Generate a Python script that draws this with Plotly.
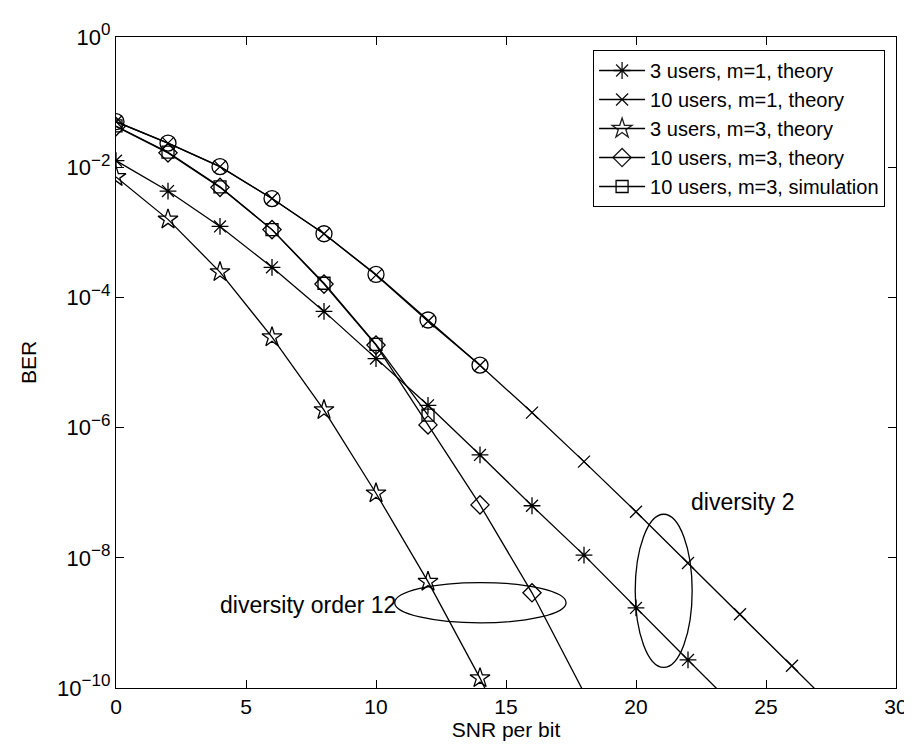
import plotly.graph_objects as go

# ---------------- data ----------------
snr = [0, 2, 4, 6, 8, 10, 12, 14, 16, 18, 20, 22, 24, 26, 28]

ber_3u_m1_theory = [1.26e-2, 4.3e-3, 1.23e-3, 2.9e-4, 6.1e-5, 1.15e-5, 2.2e-6, 3.8e-7,
                    6.3e-8, 1.1e-8, 1.7e-9, 2.7e-10, 4.3e-11]
ber_10u_m1_theory = [5.0e-2, 2.34e-2, 1.02e-2, 3.3e-3, 9.5e-4, 2.2e-4, 4.3e-5, 9.1e-6,
                     1.7e-6, 3.0e-7, 5.1e-8, 8.3e-9, 1.36e-9, 2.2e-10, 3.5e-11]
ber_3u_m3_theory = [7.1e-3, 1.58e-3, 2.45e-4, 2.45e-5, 1.86e-6, 9.8e-8, 4.3e-9, 1.42e-10, 3.0e-12]
ber_10u_m3_theory = [4.2e-2, 1.66e-2, 4.9e-3, 1.1e-3, 1.6e-4, 1.85e-5, 1.1e-6, 6.5e-8,
                     2.9e-9, 8.5e-11]
ber_10u_m3_sim = [4.3e-2, 1.7e-2, 5.0e-3, 1.1e-3, 1.65e-4, 1.9e-5, 1.55e-6]
ber_10u_m1_sim = [5.0e-2, 2.34e-2, 1.02e-2, 3.3e-3, 9.5e-4, 2.25e-4, 4.5e-5, 9.1e-6]

names = ["3 users, m=1, theory", "10 users, m=1, theory", "3 users, m=3, theory",
         "10 users, m=3, theory", "10 users, m=3, simulation"]

x_ticks = [0, 5, 10, 15, 20, 25, 30]
y_tick_vals = [1e0, 1e-2, 1e-4, 1e-6, 1e-8, 1e-10]
y_tick_exps = ["0", "\u22122", "\u22124", "\u22126", "\u22128", "\u221210"]

annot_texts = ["diversity order 12", "diversity 2"]

# ---------------- figure ----------------
FONT = "Liberation Sans, Arial, Helvetica, sans-serif"
YMIN = 1e-10
FS = 21

y_tick_text = ["10<sup><span style='font-size:17px'>%s</span></sup>" % e for e in y_tick_exps]


def series(y, name, symbol, size, show=True):
    xs = snr[:len(y)]
    return go.Scatter(
        x=xs, y=y, name=name, mode="lines+markers", showlegend=show,
        legendgroup=name,
        line=dict(color="black", width=1.3),
        marker=dict(symbol=symbol, size=size, color="black",
                    opacity=[1 if v >= YMIN else 0 for v in y],
                    line=dict(color="black", width=1.3)),
    )


fig = go.Figure()
fig.add_trace(series(ber_10u_m1_sim, "10 users, m=1, simulation", "circle-open", 16, show=False))
fig.add_trace(series(ber_3u_m1_theory, names[0], "asterisk-open", 14))
fig.add_trace(series(ber_10u_m1_theory, names[1], "x-thin-open", 12))
fig.add_trace(series(ber_3u_m3_theory, names[2], "star-open", 15))
fig.add_trace(series(ber_10u_m3_theory, names[3], "diamond-open", 14))
fig.add_trace(series(ber_10u_m3_sim, names[4], "square-open", 12))

# ellipses
fig.add_shape(type="circle", xref="x", yref="y", x0=10.72, x1=17.31,
              y0=10 ** -9.0, y1=10 ** -8.38,
              line=dict(color="black", width=1.3))
fig.add_shape(type="circle", xref="x", yref="y", x0=19.97, x1=22.16,
              y0=10 ** -9.683, y1=10 ** -7.331,
              line=dict(color="black", width=1.3))

fig.add_annotation(x=3.94, y=-8.72, xref="x", yref="y", text=annot_texts[0],
                   showarrow=False, xanchor="left", yanchor="middle",
                   font=dict(family=FONT, size=23, color="black"))
fig.add_annotation(x=22.05, y=-7.15, xref="x", yref="y", text=annot_texts[1],
                   showarrow=False, xanchor="left", yanchor="middle",
                   font=dict(family=FONT, size=23, color="black"))

fig.update_xaxes(range=[0, 30], tickvals=x_ticks, ticks="inside", ticklen=8,
                 showline=True, linecolor="black", linewidth=1.3, mirror="ticks",
                 showgrid=False, zeroline=False, tickcolor="black",
                 tickfont=dict(family=FONT, size=FS, color="black"),
                 title=dict(text="SNR per bit", font=dict(family=FONT, size=FS, color="black"),
                            standoff=4))
fig.update_yaxes(type="log", range=[-10, 0], tickvals=y_tick_vals, ticktext=y_tick_text,
                 ticks="inside", ticklen=8, showline=True, linecolor="black", linewidth=1.3,
                 mirror="ticks", showgrid=False, zeroline=False, tickcolor="black",
                 tickfont=dict(family=FONT, size=22, color="black"),
                 title=dict(text="BER", font=dict(family=FONT, size=FS, color="black"),
                            standoff=14))

fig.update_layout(
    width=912, height=748,
    margin=dict(l=108, r=15, t=28, b=68),
    plot_bgcolor="white", paper_bgcolor="white",
    font=dict(family=FONT, size=FS, color="black"),
    legend=dict(x=0.986, y=0.98, xanchor="right", yanchor="top",
                bgcolor="white", bordercolor="black", borderwidth=1,
                font=dict(family=FONT, size=20, color="black"),
                itemwidth=46, traceorder="grouped", tracegroupgap=0),
    showlegend=True,
)

fig.write_html("out.html")
